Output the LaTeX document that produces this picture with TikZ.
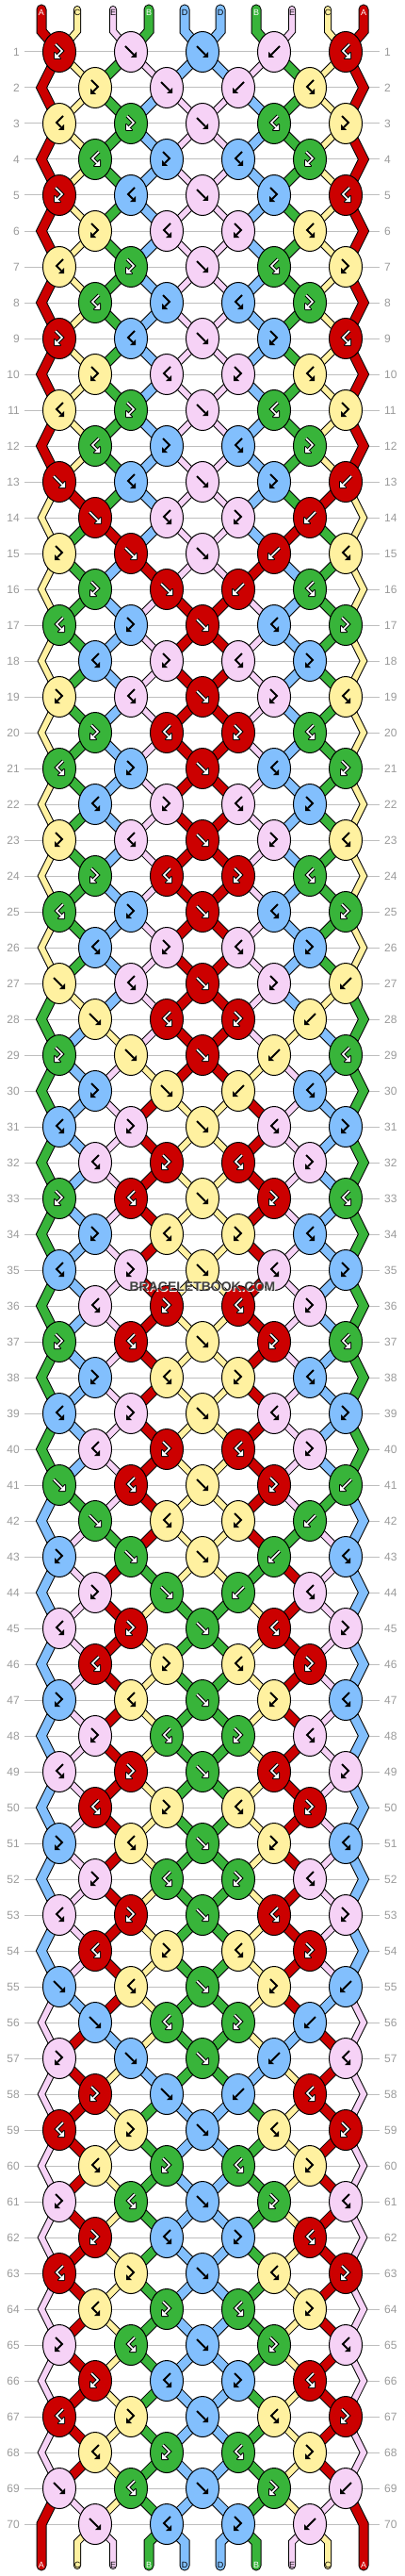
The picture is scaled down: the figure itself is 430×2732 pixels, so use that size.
\documentclass[tikz,border=0pt]{standalone}
\usepackage{fontspec}
\setmainfont{Liberation Sans}
\usetikzlibrary{shapes.geometric}

\definecolor{cA}{HTML}{CC0000}
\definecolor{cB}{HTML}{38B43A}
\definecolor{cC}{HTML}{FFF1A0}
\definecolor{cD}{HTML}{82BFFD}
\definecolor{cE}{HTML}{F6D2F6}
\definecolor{gridgray}{HTML}{BEBEBE}
\definecolor{numgray}{HTML}{9A9A9A}
\definecolor{markgray}{HTML}{404040}

\pgfdeclarelayer{grid}
\pgfdeclarelayer{threads}
\pgfsetlayers{grid,threads,main}

\tikzset{
	knot/.style={ellipse, draw=black, line width=1, minimum width=35, minimum height=43, inner sep=0},
	rowline/.style={gridgray, line width=1},
	rownum/.style={numgray, inner xsep=5, inner ysep=0, font=\fontsize{12}{12}\selectfont},
	strlabel/.style={inner sep=0, font=\fontsize{9}{9}\selectfont},
	thread/.style={line cap=round, line join=miter},
	iconline/.style={line width=2, line join=miter},
	watermark/.style={font=\bfseries\fontsize{14}{14}\selectfont},
}

% knot types: which thread is on top, and do the threads change places
\def\ktf{\def\ktop{0}\def\kswap{1}}
\def\ktb{\def\ktop{1}\def\kswap{1}}
\def\ktfb{\def\ktop{0}\def\kswap{0}}
\def\ktbf{\def\ktop{1}\def\kswap{0}}
% icons: shaft and head
\def\shf{(-6,-6) -- (3,3)}
\def\hdf{(6,6) -- (6,0) -- (0,6) -- cycle}
\def\shb{(6,-6) -- (-3,3)}
\def\hdb{(-6,6) -- (-6,0) -- (0,6) -- cycle}
\def\shfb{(-4,-8) -- (3,-1) -- (-2,4)}
\def\hdfb{(-5,7) -- (-5,1) -- (1,7) -- cycle}
\def\shbf{(4,-8) -- (-3,-1) -- (2,4)}
\def\hdbf{(5,7) -- (5,1) -- (-1,7) -- cycle}
% dark colours get white icons and labels, thin threads for the light ones
\def\darkcA{1}\def\darkcB{1}\def\darkcC{0}\def\darkcD{0}\def\darkcE{0}
\def\twcA{11}\def\twcB{11}\def\twcC{8}\def\twcD{11}\def\twcE{8}

\begin{document}
\begin{tikzpicture}[x=1pt, y=-1pt]
	\useasboundingbox (0,0) rectangle (430,2732);

	% row lines and numbers
	\begin{pgfonlayer}{grid}
	\foreach \rw in {1,...,70}{
		\pgfmathsetmacro\ry{55+38*(\rw-1)}
		\node[rownum, anchor=east] (nl\rw) at (26,\ry) {\rw};
		\node[rownum, anchor=west] (nr\rw) at (403,\ry) {\rw};
		\draw[rowline] (nl\rw) -- (nr\rw);
	}
	\end{pgfonlayer}

	% threads at the top
	\foreach \cl/\lt [count=\p from 0] in {cA/A,cC/C,cE/E,cB/B,cD/D,cD/D,cB/B,cE/E,cC/C,cA/A}{
		\pgfmathsetmacro\sx{44+38*\p}
		\expandafter\xdef\csname scol\p\endcsname{\cl}
		\expandafter\xdef\csname slab\p\endcsname{\lt}
		\expandafter\xdef\csname at\p\endcsname{\p}
		\expandafter\xdef\csname spath\p\endcsname{(\sx,10) -- (\sx,33)}
		\ifnum\csname dark\cl\endcsname=1 \def\tc{white}\else\def\tc{black}\fi
		\node[strlabel, text=\tc] (top\p) at (\sx,13) {\lt};
	}

	% knots, row by row
	\foreach \blk in {0,...,4}{
	\foreach \jr/\kl in {1/{fb,f,f,b,bf}, 2/{fb,f,b,bf}, 3/{bf,fb,f,bf,fb}, 4/{bf,fb,bf,fb},
		5/{fb,bf,f,fb,bf}, 6/{fb,bf,fb,bf}, 7/{bf,fb,f,bf,fb}, 8/{bf,fb,bf,fb},
		9/{fb,bf,f,fb,bf}, 10/{fb,bf,fb,bf}, 11/{bf,fb,f,bf,fb}, 12/{bf,fb,bf,fb},
		13/{f,bf,f,fb,b}, 14/{f,bf,fb,b}}{
		\pgfmathtruncatemacro\rw{14*\blk+\jr}
		\pgfmathsetmacro\ky{55+38*(\rw-1)}
		\pgfmathtruncatemacro\rodd{mod(\rw,2)}
		\foreach \ty [count=\kn from 0] in \kl {
			\ifnum\rodd=1
				\pgfmathtruncatemacro\lpos{2*\kn}
				\pgfmathsetmacro\kx{63+76*\kn}
			\else
				\pgfmathtruncatemacro\lpos{2*\kn+1}
				\pgfmathsetmacro\kx{101+76*\kn}
			\fi
			\pgfmathtruncatemacro\rpos{\lpos+1}
			\edef\ls{\csname at\lpos\endcsname}
			\edef\rs{\csname at\rpos\endcsname}
			\csname kt\ty\endcsname
			\ifnum\ktop=0 \edef\kcol{\csname scol\ls\endcsname}\else\edef\kcol{\csname scol\rs\endcsname}\fi
			\ifnum\kswap=1
				\expandafter\xdef\csname at\lpos\endcsname{\rs}
				\expandafter\xdef\csname at\rpos\endcsname{\ls}
			\fi
			\expandafter\xdef\csname spath\ls\endcsname{\csname spath\ls\endcsname -- (\kx,\ky)}
			\expandafter\xdef\csname spath\rs\endcsname{\csname spath\rs\endcsname -- (\kx,\ky)}
			\node[knot, fill=\kcol] (k\rw-\kn) at (\kx,\ky) {};
			\edef\ish{\csname sh\ty\endcsname}
			\edef\ihd{\csname hd\ty\endcsname}
			\begin{scope}[shift={(k\rw-\kn)}]
			\ifnum\csname dark\kcol\endcsname=1
				\draw[iconline, black, line width=3.6] \ish;
				\filldraw[black, line width=2, line join=round] \ihd;
				\draw[iconline, white, line width=1.6] \ish;
				\fill[white] \ihd;
			\else
				\draw[iconline, black] \ish;
				\fill[black] \ihd;
			\fi
			\end{scope}
		}
		% outer threads turn at the edges
		\ifnum\rodd=0
			\edef\ls{\csname at0\endcsname}
			\expandafter\xdef\csname spath\ls\endcsname{\csname spath\ls\endcsname -- (44,\ky)}
			\edef\rs{\csname at9\endcsname}
			\expandafter\xdef\csname spath\rs\endcsname{\csname spath\rs\endcsname -- (386,\ky)}
		\fi
	}}

	% threads at the bottom
	\foreach \p in {0,...,9}{
		\pgfmathsetmacro\sx{44+38*\p}
		\edef\sid{\csname at\p\endcsname}
		\expandafter\xdef\csname spath\sid\endcsname{\csname spath\sid\endcsname -- (\sx,2696) -- (\sx,2721)}
		\edef\cl{\csname scol\sid\endcsname}
		\ifnum\csname dark\cl\endcsname=1 \def\tc{white}\else\def\tc{black}\fi
		\node[strlabel, text=\tc] (bot\p) at (\sx,2720) {\csname slab\sid\endcsname};
	}

	\begin{pgfonlayer}{threads}
	\foreach \sid in {0,...,9}{
		\edef\scl{\csname scol\sid\endcsname}
		\edef\tw{\csname tw\scl\endcsname}
		\pgfmathsetmacro\tin{\tw-2}
		\expandafter\let\expandafter\thr\csname spath\sid\endcsname
		\draw[thread, black, line width=\tw] \thr;
		\draw[thread, \scl, line width=\tin] \thr;
	}
	\end{pgfonlayer}

	\node[watermark, text=white] (markglow) at (216,1366) {BRACELETBOOK.COM};
	\node[watermark, text=markgray] (mark) at (215,1365) {BRACELETBOOK.COM};
\end{tikzpicture}
\end{document}
